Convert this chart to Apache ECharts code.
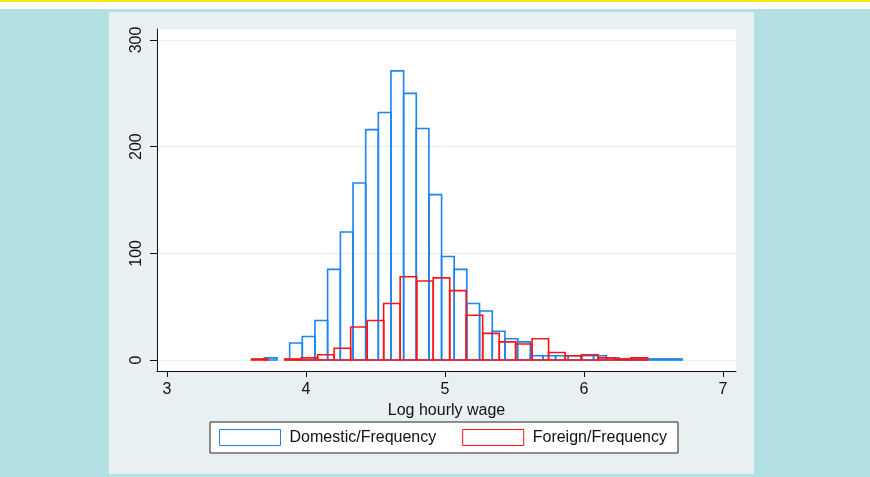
<!DOCTYPE html>
<html>
<head>
<meta charset="utf-8">
<script src="https://cdn.jsdelivr.net/npm/echarts@6/dist/echarts.min.js"></script>
<style>
  html, body { margin: 0; padding: 0; background: #b3e0e3; }
  #chart { width: 870px; height: 477px; }
</style>
</head>
<body>
<div id="chart"></div>
<script>
// bin centres (log hourly wage) and frequencies
const domesticBins = [3.746, 3.928, 4.019, 4.110, 4.201, 4.293, 4.384, 4.475, 4.566, 4.657,
  4.748, 4.839, 4.930, 5.021, 5.112, 5.203, 5.295, 5.386, 5.477, 5.568, 5.659, 5.750,
  5.841, 5.932, 6.023, 6.115, 6.206, 6.297, 6.388, 6.479, 6.570, 6.661];
const domesticFreq = [2, 16, 22, 37, 85, 120, 166, 216, 232, 271,
  250, 217, 155, 97, 85, 53, 46, 27, 20, 17, 4, 4,
  4, 4, 4, 4, 2, 1, 1, 1, 1, 1];
const domesticWidth = 0.0911;

const foreignBins = [3.668, 3.906, 4.025, 4.143, 4.262, 4.381, 4.500, 4.618, 4.737, 4.856,
  4.975, 5.093, 5.212, 5.331, 5.450, 5.567, 5.686, 5.805, 5.924, 6.042, 6.161, 6.280, 6.399];
const foreignFreq = [1, 1, 2, 5, 11, 31, 37, 53, 78, 74,
  77, 65, 42, 25, 17, 15, 20, 7, 4, 5, 2, 1, 2];
const foreignWidth = 0.1187;

const xTicks = [3, 4, 5, 6, 7];
const yTicks = [0, 100, 200, 300];

const BLUE = '#1a84f2';
const RED = '#ff1414';
const FONT = "'Liberation Sans', Arial, sans-serif";

function histBar(width) {
  return function (params, api) {
    const x = api.value(0);
    const y = api.value(1);
    const p0 = api.coord([x - width / 2, y]);
    const p1 = api.coord([x + width / 2, 0]);
    return {
      type: 'rect',
      shape: { x: p0[0], y: p0[1], width: p1[0] - p0[0], height: p1[1] - p0[1] },
      style: { fill: 'none', stroke: api.visual('color'), lineWidth: 1.6 }
    };
  };
}

const chart = echarts.init(document.getElementById('chart'));
chart.setOption({
  animation: false,
  textStyle: { fontFamily: FONT },
  graphic: [
    { type: 'rect', z: -10, shape: { x: 0, y: 0, width: 870, height: 2 }, style: { fill: '#ffe50a' } },
    { type: 'rect', z: -10, shape: { x: 0, y: 2, width: 870, height: 7 }, style: { fill: '#ffffff' } },
    { type: 'rect', z: -10, shape: { x: 109, y: 12, width: 645, height: 462 }, style: { fill: '#e9f0f1' } }
  ],
  grid: {
    left: 157, top: 29, width: 579, height: 342,
    show: true, backgroundColor: '#ffffff', borderWidth: 0
  },
  legend: {
    left: 210, top: 422,
    padding: [7, 11, 7, 9],
    backgroundColor: '#ffffff',
    borderColor: '#222', borderWidth: 1, borderRadius: 0,
    itemWidth: 61, itemHeight: 16, itemGap: 26,
    selectedMode: false,
    textStyle: { fontSize: 16, color: '#111', fontFamily: FONT, padding: [0, 0, 0, 4], lineHeight: 16 },
    data: [
      { name: 'Domestic/Frequency', icon: 'rect', itemStyle: { color: '#fff', borderColor: BLUE, borderWidth: 1 } },
      { name: 'Foreign/Frequency', icon: 'rect', itemStyle: { color: '#fff', borderColor: RED, borderWidth: 1 } }
    ]
  },
  xAxis: {
    type: 'value', min: 2.928, max: 7.094,
    name: 'Log hourly wage', nameLocation: 'middle', nameGap: 24,
    nameTextStyle: { fontSize: 16, color: '#111', fontFamily: FONT },
    axisLine: { onZero: false, lineStyle: { color: '#111', width: 1 } },
    axisTick: { customValues: xTicks, length: 6, lineStyle: { color: '#111' } },
    axisLabel: { customValues: xTicks, fontSize: 16, color: '#111', margin: 11 },
    splitLine: { show: false }
  },
  yAxis: {
    type: 'value', min: -10.3, max: 310.3,
    axisLine: { show: true, onZero: false, lineStyle: { color: '#111', width: 1 } },
    axisTick: { show: true, customValues: yTicks, length: 7, lineStyle: { color: '#111' } },
    axisLabel: { customValues: yTicks, rotate: 90, fontSize: 16, color: '#111', margin: 12 },
    splitLine: { show: true, lineStyle: { color: '#e6eff0', width: 1 } }
  },
  series: [
    {
      name: 'Domestic/Frequency', type: 'custom',
      itemStyle: { color: BLUE },
      renderItem: histBar(domesticWidth),
      encode: { x: 0, y: 1 },
      data: domesticBins.map((b, i) => [b, domesticFreq[i]])
    },
    {
      name: 'Foreign/Frequency', type: 'custom',
      itemStyle: { color: RED },
      renderItem: histBar(foreignWidth),
      encode: { x: 0, y: 1 },
      data: foreignBins.map((b, i) => [b, foreignFreq[i]])
    }
  ]
});
</script>
</body>
</html>
